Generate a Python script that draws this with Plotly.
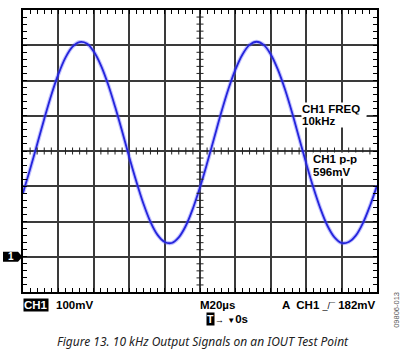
import plotly.graph_objects as go

# Time axis (µs) and channel-1 voltage (mV, relative to screen centre)
time_us = [0, 4, 8, 12, 16, 20, 24, 28, 32, 36, 40, 44, 48, 52, 56, 60, 64, 68, 72, 76,
           80, 84, 88, 92, 96, 100, 104, 108, 112, 116, 120, 124, 128, 132, 136, 140, 144,
           148, 152, 156, 160, 164, 168, 172, 176, 180, 184, 188, 192, 196, 200]
ch1_mv = [-119, -52, 19, 91, 159, 218, 265, 296, 309, 305, 282, 243, 190, 126, 56, -17,
          -86, -149, -201, -238, -258, -261, -245, -212, -163, -103, -35, 37, 109, 175, 231,
          274, 301, 310, 301, 274, 231, 175, 109, 37, -35, -103, -163, -212, -245, -261,
          -258, -240, -205, -156, -98]

ground_mv = -300
meas_freq = ["CH1 FREQ", "10kHz"]
meas_pp = ["CH1 p-p", "596mV"]
caption = "Figure 13. 10 kHz Output Signals on an IOUT Test Point"

W, H = 401, 352
L, R, T, B = 23, 24, 8, 60
PW, PH = W - L - R, H - T - B


def px(x):
    return (x - L) / PW


def py(y):
    return (H - B - y) / PH


fig = go.Figure()

# noise halo and core of the trace
fig.add_trace(go.Scatter(x=time_us, y=ch1_mv, mode="lines", line_shape="spline",
                         line=dict(color="rgba(100,100,255,0.40)", width=4),
                         hoverinfo="skip", showlegend=False))
fig.add_trace(go.Scatter(x=time_us, y=ch1_mv, mode="lines", line_shape="spline",
                         line=dict(color="#2424dc", width=1.8),
                         hoverinfo="skip", showlegend=False))

# minor ticks on the centre graticule lines
cx = [t for t in range(0, 201, 4) if t % 20 != 0]
cy = [v for v in range(-400, 401, 20) if v % 100 != 0]
fig.add_trace(go.Scatter(x=cx, y=[0] * len(cx), mode="markers",
                         marker=dict(symbol="line-ns", size=5, line=dict(color="#222", width=1)),
                         hoverinfo="skip", showlegend=False))
fig.add_trace(go.Scatter(x=[100] * len(cy), y=cy, mode="markers",
                         marker=dict(symbol="line-ew", size=5, line=dict(color="#222", width=1)),
                         hoverinfo="skip", showlegend=False))

axis_common = dict(showticklabels=False, zeroline=False, showline=True, linecolor="black",
                   linewidth=2, mirror="allticks", ticks="inside", ticklen=4,
                   tickcolor="black", tickwidth=1, showgrid=True, gridcolor="#3a3a3a",
                   gridwidth=1.5, fixedrange=True)
fig.update_xaxes(range=[0, 200], dtick=20, tick0=0,
                 minor=dict(dtick=4, ticks="inside", ticklen=4, tickcolor="black",
                            showgrid=False), **axis_common)
fig.update_yaxes(range=[-400, 400], dtick=100, tick0=0,
                 minor=dict(dtick=20, ticks="inside", ticklen=4, tickcolor="black",
                            showgrid=False), **axis_common)

bold = dict(family="Liberation Sans, Arial, sans-serif", size=11.5, color="black")
white_bold = dict(family="Liberation Sans, Arial, sans-serif", size=11.5, color="white")

ann = []
# measurement read-outs
ann.append(dict(xref="paper", yref="paper", x=px(301), y=py(108), text="<b>%s</b>" % meas_freq[0],
                xanchor="left", yanchor="middle", showarrow=False, font=bold, bgcolor="white",
                width=64, height=12, align="left", borderpad=0))
ann.append(dict(xref="paper", yref="paper", x=px(301), y=py(120), text="<b>%s</b>" % meas_freq[1],
                xanchor="left", yanchor="middle", showarrow=False, font=bold, bgcolor="white",
                width=64, height=12, align="left", borderpad=0))
ann.append(dict(xref="paper", yref="paper", x=px(312), y=py(158), text="<b>%s</b>" % meas_pp[0],
                xanchor="left", yanchor="middle", showarrow=False, font=bold, bgcolor="white",
                width=52, height=12, align="left", borderpad=0))
ann.append(dict(xref="paper", yref="paper", x=px(312), y=py(171), text="<b>%s</b>" % meas_pp[1],
                xanchor="left", yanchor="middle", showarrow=False, font=bold, bgcolor="white",
                width=52, height=13, align="left", borderpad=0))

# bottom status line
ann.append(dict(xref="paper", yref="paper", x=px(23), y=py(305), text="<b>CH1</b>",
                xanchor="left", yanchor="middle", showarrow=False, font=white_bold,
                bgcolor="black", borderpad=0))
ann.append(dict(xref="paper", yref="paper", x=px(54), y=py(305), text="<b>100mV</b>",
                xanchor="left", yanchor="middle", showarrow=False, font=bold))
ann.append(dict(xref="paper", yref="paper", x=px(198), y=py(305), text="<b>M20µs</b>",
                xanchor="left", yanchor="middle", showarrow=False, font=bold))
ann.append(dict(xref="paper", yref="paper", x=px(378), y=py(305),
                text="<b>A  CH1 </b><span style='font-size:9px'>_/¯</span><b> 182mV</b>",
                xanchor="right", yanchor="middle", showarrow=False, font=bold))
ann.append(dict(xref="paper", yref="paper", x=px(205.5), y=py(319.5), text="<b>T</b>",
                xanchor="left", yanchor="middle", showarrow=False,
                font=dict(family="Liberation Sans, Arial, sans-serif", size=10.5, color="white"),
                bgcolor="black", borderpad=0))
ann.append(dict(xref="paper", yref="paper", x=px(213), y=py(319.5),
                text="<span style='font-size:9px'>→</span> <span style='font-size:8px'>▼</span><b>0s</b>",
                xanchor="left", yanchor="middle", showarrow=False, font=bold))

# caption and figure id
ann.append(dict(xref="paper", yref="paper", x=px(202.5), y=py(342), text="<i>%s</i>" % caption,
                xanchor="center", yanchor="middle", showarrow=False,
                font=dict(family="Noto Sans, sans-serif", size=12, color="#222")))
ann.append(dict(xref="paper", yref="paper", x=px(397), y=py(310), text="09806-013",
                xanchor="center", yanchor="middle", showarrow=False, textangle=-90,
                font=dict(family="Liberation Sans, Arial, sans-serif", size=7.5, color="#555")))

# ground marker "1" (pentagon arrow pointing at the ground level)
gy = 256.5
pts = [(3, gy - 5), (18, gy - 5), (22.5, gy), (18, gy + 5), (3, gy + 5)]
path = "M" + " L".join("%.5f,%.5f" % (px(a), py(b)) for a, b in pts) + " Z"
shapes = [dict(type="path", xref="paper", yref="paper", path=path,
               fillcolor="black", line=dict(width=0), layer="above")]
ann.append(dict(xref="paper", yref="y", x=px(10.5), y=ground_mv, text="<b>1</b>",
                xanchor="center", yanchor="middle", showarrow=False,
                font=dict(family="Liberation Sans, Arial, sans-serif", size=10, color="white")))

fig.update_layout(width=W, height=H, margin=dict(l=L, r=R, t=T, b=B),
                  paper_bgcolor="white", plot_bgcolor="white",
                  annotations=ann, shapes=shapes, showlegend=False)

fig.write_html("out.html", config={"displayModeBar": False})
